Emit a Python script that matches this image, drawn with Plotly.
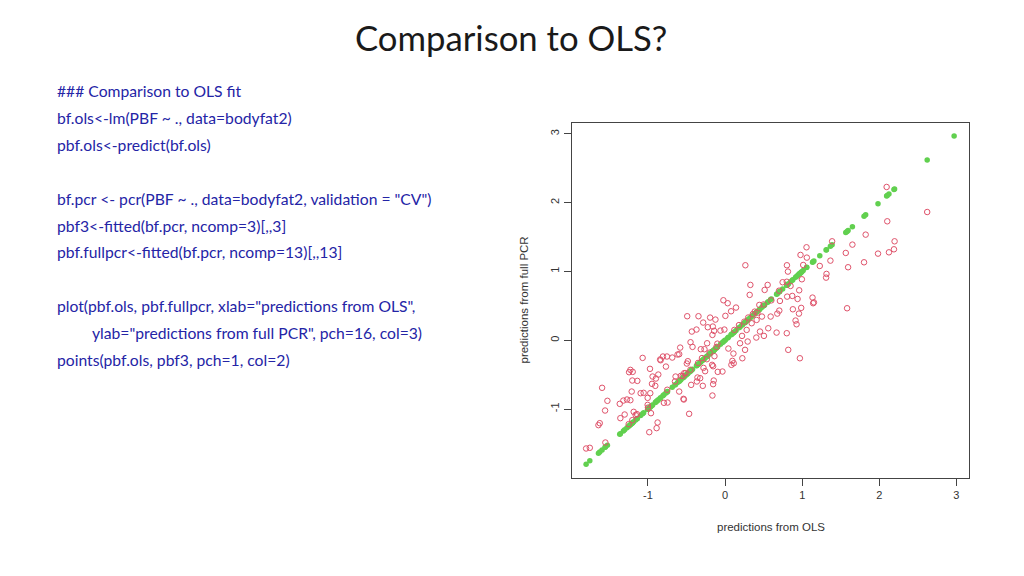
import plotly.graph_objects as go

W, H = 1024, 576

# predictions from OLS (x, shared by both series)
pbf_ols = [
    2.095, 2.621, 2.103, 1.823, 2.198, 1.651, 1.388, 1.565, 1.983, 2.125,
    2.190, 1.802, 1.595, 1.366, 1.228, 1.315, 1.310, 1.582, 1.056, 0.978,
    1.060, 1.013, 0.802, 0.815, 0.996, 1.134, 1.142, 1.152, 0.961, 0.871,
    0.940, 0.805, 0.849, 0.746, 0.879, 0.958, 0.987, 0.914, 0.927, 0.800,
    0.819, 0.970, 0.263, 0.328, 0.319, 0.552, 0.513, 0.711, 0.703, 0.677,
    0.591, 0.560, 0.668, 0.504, 0.405, 0.453, 0.444, 0.384, 0.478, 0.409,
    0.345, 0.280, 0.220, 0.293, 0.194, 0.259, 0.224, 0.043, 0.108, 0.095,
    0.082, 0.112, -0.022, 0.034, 0.078, 0.142, 0.004, -0.125, -0.194, -0.345,
    -0.491, -0.284, -0.224, -0.159, -0.142, -0.164, -0.060, -0.009, -0.371, -0.431,
    -0.448, -0.422, -0.315, -0.267, -0.233, -0.112, -0.138, -0.237, -0.168, -0.155,
    -0.095, -0.034, -0.147, -0.164, -0.155, -0.259, -0.280, -0.323, -0.289, -0.358,
    -0.440, -0.366, -0.582, -0.595, -0.616, -0.685, -0.754, -0.806, -0.836, -0.767,
    -0.842, -1.069, -0.483, -0.496, -0.530, -0.573, -0.512, -0.642, -0.595, -0.539,
    -0.535, -0.466, -0.746, -0.793, -0.940, -0.866, -0.897, -0.905, -0.948, -0.974,
    -0.970, -1.056, -1.095, -1.004, -1.004, -0.961, -1.138, -1.203, -1.198, -1.228,
    -1.245, -1.211, -1.272, -1.319, -1.228, -1.366, -1.302, -1.358, -1.185, -1.142,
    -1.160, -1.203, -0.875, -0.888, -0.983, -1.526, -1.595, -1.556, -1.625, -1.642,
    -1.552, -1.802, -1.754, 2.970, -0.550, -0.450, -0.350, -0.300, -0.200, -0.100,
    0.120, 0.180, 0.250, 0.300, 0.360, 0.420, 0.500, 0.600, 0.700, 0.800,
    -0.750, -0.650, -1.000, -1.250,
]

# predictions from full PCR (green, pch=16)
pbf_fullpcr = [
    2.095, 2.621, 2.103, 1.823, 2.198, 1.651, 1.388, 1.565, 1.983, 2.125,
    2.190, 1.802, 1.595, 1.366, 1.228, 1.315, 1.310, 1.582, 1.056, 0.978,
    1.060, 1.013, 0.802, 0.815, 0.996, 1.134, 1.142, 1.152, 0.961, 0.871,
    0.940, 0.805, 0.849, 0.746, 0.879, 0.958, 0.987, 0.914, 0.927, 0.800,
    0.819, 0.970, 0.263, 0.328, 0.319, 0.552, 0.513, 0.711, 0.703, 0.677,
    0.591, 0.560, 0.668, 0.504, 0.405, 0.453, 0.444, 0.384, 0.478, 0.409,
    0.345, 0.280, 0.220, 0.293, 0.194, 0.259, 0.224, 0.043, 0.108, 0.095,
    0.082, 0.112, -0.022, 0.034, 0.078, 0.142, 0.004, -0.125, -0.194, -0.345,
    -0.491, -0.284, -0.224, -0.159, -0.142, -0.164, -0.060, -0.009, -0.371, -0.431,
    -0.448, -0.422, -0.315, -0.267, -0.233, -0.112, -0.138, -0.237, -0.168, -0.155,
    -0.095, -0.034, -0.147, -0.164, -0.155, -0.259, -0.280, -0.323, -0.289, -0.358,
    -0.440, -0.366, -0.582, -0.595, -0.616, -0.685, -0.754, -0.806, -0.836, -0.767,
    -0.842, -1.069, -0.483, -0.496, -0.530, -0.573, -0.512, -0.642, -0.595, -0.539,
    -0.535, -0.466, -0.746, -0.793, -0.940, -0.866, -0.897, -0.905, -0.948, -0.974,
    -0.970, -1.056, -1.095, -1.004, -1.004, -0.961, -1.138, -1.203, -1.198, -1.228,
    -1.245, -1.211, -1.272, -1.319, -1.228, -1.366, -1.302, -1.358, -1.185, -1.142,
    -1.160, -1.203, -0.875, -0.888, -0.983, -1.526, -1.595, -1.556, -1.625, -1.642,
    -1.552, -1.802, -1.754, 2.970, -0.550, -0.450, -0.350, -0.300, -0.200, -0.100,
    0.120, 0.180, 0.250, 0.300, 0.360, 0.420, 0.500, 0.600, 0.700, 0.800,
    -0.750, -0.650, -1.000, -1.250,
]

# predictions from 3-component PCR (red, pch=1)
pbf3 = [
    2.228, 1.864, 1.729, 1.535, 1.438, 1.390, 1.438, 1.269, 1.259, 1.278,
    1.322, 1.133, 1.061, 1.157, 1.080, 0.964, 0.910, 0.465, 1.351, 1.240,
    1.201, 1.094, 1.090, 0.998, 0.886, 0.620, 0.538, 0.550, 0.726, 0.644,
    0.600, 0.634, 0.789, 0.843, 0.450, 0.387, 0.470, 0.286, 0.232, 0.102,
    -0.140, -0.262, 1.090, 0.804, 0.659, 0.804, 0.731, 0.571, 0.431, 0.387,
    0.344, 0.174, 0.111, 0.063, 0.039, 0.126, 0.513, 0.416, 0.344, 0.295,
    0.247, 0.150, 0.063, -0.019, -0.044, -0.140, -0.262, -0.121, -0.194, -0.300,
    -0.358, -0.335, 0.581, 0.538, 0.421, 0.475, 0.354, 0.300, 0.329, 0.349,
    0.349, 0.257, 0.189, 0.199, 0.136, 0.077, 0.140, 0.155, 0.155, 0.126,
    -0.029, -0.097, -0.131, -0.131, -0.044, -0.097, -0.232, -0.276, -0.358, -0.378,
    -0.460, -0.455, -0.586, -0.804, -0.639, -0.450, -0.402, -0.552, -0.663, -0.542,
    -0.649, -0.600, -0.107, -0.203, -0.208, -0.252, -0.237, -0.237, -0.291, -0.383,
    -0.280, -0.257, -0.305, -0.339, -0.479, -0.518, -0.479, -0.528, -0.746, -0.852,
    -0.862, -1.070, -0.906, -0.910, -0.528, -0.499, -0.557, -0.663, -0.634, -0.416,
    -0.770, -0.765, -0.770, -0.838, -0.940, -1.061, -0.591, -0.586, -0.460, -0.431,
    -0.465, -0.746, -0.862, -0.877, -0.872, -0.925, -1.080, -1.133, -1.041, -1.075,
    -1.085, -1.162, -1.196, -1.278, -1.337, -0.881, -0.692, -1.022, -1.206, -1.235,
    -1.487, -1.574, -1.564, None, -0.520, -0.430, -0.330, -0.260, -0.180, -0.050,
    0.150, 0.220, 0.270, 0.330, 0.380, 0.400, 0.520, 0.580, 0.720, 0.850,
    -0.720, -0.600, -0.980, -1.220,
]

tick_vals = [-1, 0, 1, 2, 3]
tick_text = ["-1", "0", "1", "2", "3"]

title_text = "Comparison to OLS?"
code_lines = [
    ("### Comparison to OLS fit", 55, 91),
    ("bf.ols<-lm(PBF ~ ., data=bodyfat2)", 55, 118),
    ("pbf.ols<-predict(bf.ols)", 55, 145),
    ("bf.pcr <- pcr(PBF ~ ., data=bodyfat2, validation = \"CV\")", 55, 199),
    ("pbf3<-fitted(bf.pcr, ncomp=3)[,,3]", 55, 226),
    ("pbf.fullpcr<-fitted(bf.pcr, ncomp=13)[,,13]", 55, 252),
    ("plot(pbf.ols, pbf.fullpcr, xlab=\"predictions from OLS\",", 55, 306),
    ("ylab=\"predictions from full PCR\", pch=16, col=3)", 90, 333),
    ("points(pbf.ols, pbf3, pch=1, col=2)", 55, 360),
]

# plot box in pixels
L, R, T, B = 572, 969, 123, 478

fig = go.Figure()
fig.add_trace(go.Scatter(
    x=pbf_ols, y=pbf_fullpcr, mode="markers",
    marker=dict(symbol="circle", size=5.5, color="#61D04F", line=dict(width=0)),
    hoverinfo="skip", showlegend=False,
))
fig.add_trace(go.Scatter(
    x=pbf_ols, y=pbf3, mode="markers",
    marker=dict(symbol="circle-open", size=5.5, color="#DF536B", line=dict(width=1)),
    hoverinfo="skip", showlegend=False,
))

axis_common = dict(
    showgrid=False, zeroline=False, showline=True, mirror=True,
    linecolor="#444444", linewidth=1.3, ticks="outside", ticklen=7,
    tickcolor="#444444", tickwidth=1.3,
    tickfont=dict(family="Liberation Sans, Arial, sans-serif", size=11, color="#333333"),
    tickvals=tick_vals, ticktext=tick_text,
)

fig.update_layout(
    width=W, height=H,
    margin=dict(l=0, r=0, t=0, b=0),
    paper_bgcolor="white", plot_bgcolor="white",
    xaxis=dict(domain=[L / W, R / W], range=[-1.985, 3.163], **axis_common),
    yaxis=dict(domain=[1 - B / H, 1 - T / H], range=[-2.003, 3.158],
               tickangle=-90, **axis_common),
)

annotations = [
    dict(text=title_text, x=511 / W, y=1 - 38 / H, xref="paper", yref="paper",
         xanchor="center", yanchor="middle", showarrow=False,
         font=dict(family="Lato, Open Sans, sans-serif", size=34.7, color="#1a1a1a")),
    dict(text="predictions from OLS", x=(L + R) / 2 / W, y=1 - 527 / H,
         xref="paper", yref="paper", xanchor="center", yanchor="middle", showarrow=False,
         font=dict(family="Liberation Sans, Arial, sans-serif", size=11.5, color="#333333")),
    dict(text="predictions from full PCR", x=523 / W, y=1 - (T + B) / 2 / H,
         xref="paper", yref="paper", xanchor="center", yanchor="middle", showarrow=False,
         textangle=-90,
         font=dict(family="Liberation Sans, Arial, sans-serif", size=11.5, color="#333333")),
]
for txt, px, py in code_lines:
    annotations.append(dict(
        text=txt, x=px / W, y=1 - py / H, xref="paper", yref="paper",
        xanchor="left", yanchor="middle", showarrow=False,
        font=dict(family="Lato, Open Sans, sans-serif", size=15.7, color="#2424a6"),
    ))
fig.update_layout(annotations=annotations)

fig.write_html(
    "out.html",
    config={"displayModeBar": False},
    post_script="document.body.style.margin='0';document.body.style.overflow='hidden';",
)
